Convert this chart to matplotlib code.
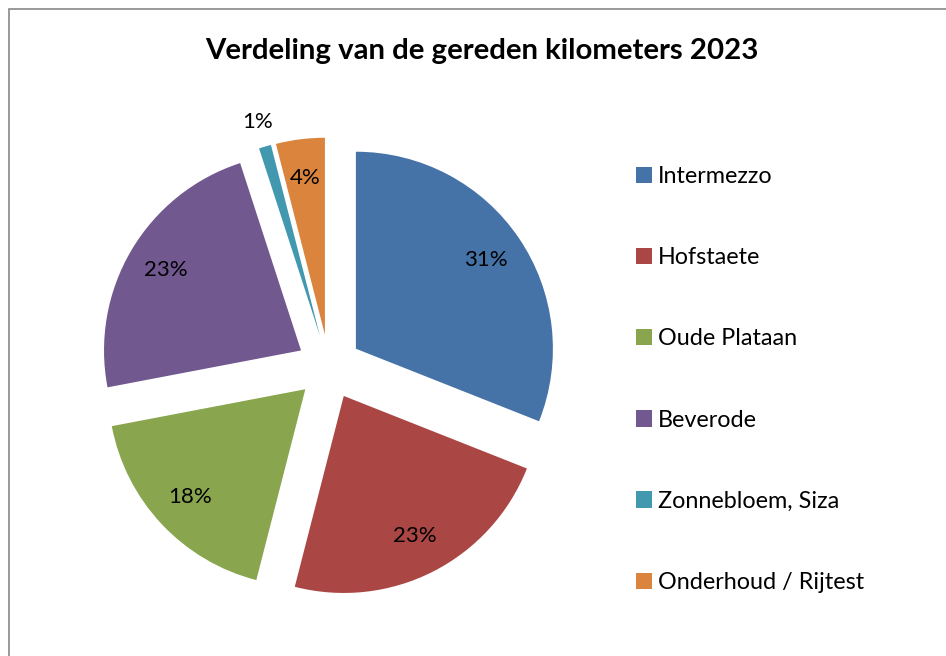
import matplotlib.pyplot as plt
from matplotlib.patches import Rectangle, Patch
import numpy as np

plt.rcParams['font.family'] = ['Lato', 'DejaVu Sans']

# data
categories = ["Intermezzo", "Hofstaete", "Oude Plataan", "Beverode",
              "Zonnebloem, Siza", "Onderhoud / Rijtest"]
shares = [31, 23, 18, 23, 1, 4]
colors = ["#4572A7", "#AA4643", "#89A54E", "#71588F", "#4198AF", "#DB843D"]

W, H = 946, 656
fig = plt.figure(figsize=(W / 100, H / 100), dpi=100)

# pie axes: centre at (329, 367) px, radius 197 px
cx, cy, r_px = 329, 367, 197
half = 250
ax = fig.add_axes([(cx - half) / W, (H - cy - half) / H, 2 * half / W, 2 * half / H])

wedges, texts, autotexts = ax.pie(
    shares, colors=colors, startangle=90, counterclock=False,
    explode=[0.165] * len(shares), autopct="%1.0f%%", pctdistance=0.8,
    textprops=dict(fontsize=16, color="black"),
    wedgeprops=dict(linewidth=0))

# small slice: label outside
w = wedges[4]
mid = np.deg2rad((w.theta1 + w.theta2) / 2)
autotexts[4].set_position((w.center[0] + 1.13 * np.cos(mid),
                           w.center[1] + 1.13 * np.sin(mid)))

lim = half / r_px
ax.set_xlim(-lim, lim)
ax.set_ylim(-lim, lim)
ax.set_aspect("equal")
ax.axis("off")

fig.text(482 / W, 1 - 59 / H, "Verdeling van de gereden kilometers 2023",
         ha="center", va="baseline", fontsize=21.2, fontweight="bold")

handles = [Patch(facecolor=c, edgecolor="none") for c in colors]
fig.legend(handles, categories, loc="upper left",
           bbox_to_anchor=(636 / W, 1 - 166 / H), frameon=False,
           fontsize=16.8, handlelength=0.7, handleheight=0.7,
           handletextpad=0.25, labelspacing=2.58, borderpad=0, borderaxespad=0)

# chart border (left/top visible)
fig.add_artist(Rectangle((8.5 / W, -0.1), 1.1, (H - 8.5) / H + 0.1,
                         transform=fig.transFigure, fill=False,
                         edgecolor="#888888", linewidth=1.2))

fig.savefig("out.png", dpi=100)
